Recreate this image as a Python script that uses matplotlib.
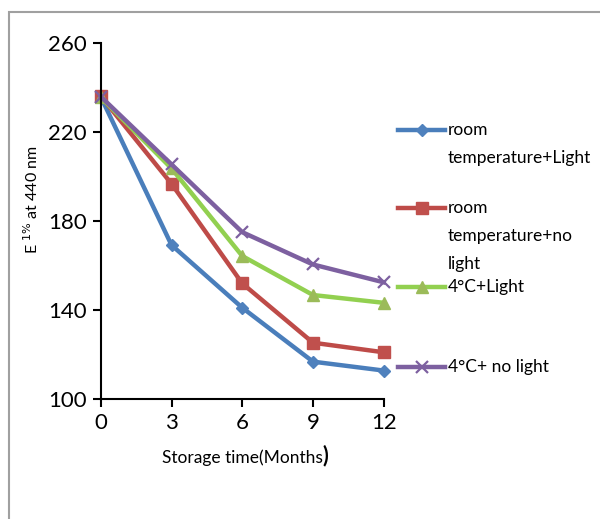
import matplotlib
matplotlib.use("Agg")
import matplotlib.pyplot as plt
from matplotlib.lines import Line2D
from matplotlib.patches import Rectangle

# storage time (months) and absorbance values
months = [0, 3, 6, 9, 12]
room_light = [235.7, 169.2, 141.1, 116.9, 112.9]
room_dark = [236.0, 196.7, 152.0, 125.4, 121.1]
cold_light = [235.5, 203.6, 164.3, 146.8, 143.3]
cold_dark = [235.8, 205.4, 175.0, 160.5, 152.5]

labels = ["room\ntemperature+Light", "room\ntemperature+no\nlight",
          "4°C+Light", "4°C+ no light"]
y_ticks = [100, 140, 180, 220, 260]

plt.rcParams["font.family"] = ["Lato", "DejaVu Sans"]

W, H = 600, 519
fig = plt.figure(figsize=(W / 100, H / 100), dpi=100)
ax = fig.add_axes([0.168, 0.2306, 0.4715, 0.6871])

series = [
    (room_light, "#4A7EBB", "#4F81BD", "D", 6),
    (room_dark, "#BE4B48", "#C0504D", "s", 8),
    (cold_light, "#92D050", "#9BBB59", "^", 8),
    (cold_dark, "#7D60A0", "#7D60A0", "x", 9),
]
styles = []
for (vals, lc, mc, mk, ms), lab in zip(series, labels):
    kw = dict(color=lc, lw=3.2, marker=mk, ms=ms, mfc=mc, mec=mc,
              mew=1.6 if mk == "x" else 1)
    ax.plot(months, vals, clip_on=False, **kw)
    styles.append(kw)

ax.set_xlim(0, 12)
ax.set_ylim(100, 260)
ax.set_xticks(months)
ax.set_yticks(y_ticks)
ax.tick_params(labelsize=16, width=1.5, length=6, direction="out",
               colors="black", pad=4)
for side in ("top", "right"):
    ax.spines[side].set_visible(False)
for side in ("left", "bottom"):
    ax.spines[side].set_linewidth(1.5)

ax.set_ylabel(r"E $^{1\%}$ at 440 nm", fontsize=11.5)
ax.yaxis.set_label_coords(-0.21, 0.56)
xl = ax.set_xlabel("Storage time(Months", fontsize=12.5, labelpad=12)
ax.annotate(")", xy=(1, 0), xycoords=xl, va="bottom", ha="left",
            fontsize=15.5, fontweight="bold")

# legend at right: handle lines up with the first text line
leg_y = [130, 208, 287, 367]
line_gap = 28
for kw, lab, yp in zip(styles, labels, leg_y):
    y = 1 - yp / H
    fig.add_artist(Line2D([398 / W, 445 / W], [y, y], transform=fig.transFigure,
                          markevery=[], **kw))
    fig.add_artist(Line2D([421.5 / W], [y], transform=fig.transFigure,
                          **{k: v for k, v in kw.items() if k != "lw"}, lw=0))
    for i, part in enumerate(lab.split("\n")):
        fig.text(448 / W, 1 - (yp + i * line_gap) / H, part, fontsize=12.5,
                 va="center", ha="left")

# gray frame around the chart area
fig.patches.append(Rectangle((8.5 / W, -0.1), 1.2, 1 - 11.5 / H + 0.1,
                             transform=fig.transFigure, fill=False,
                             ec="#A0A0A0", lw=1.5))

fig.savefig("out.png", dpi=100)
